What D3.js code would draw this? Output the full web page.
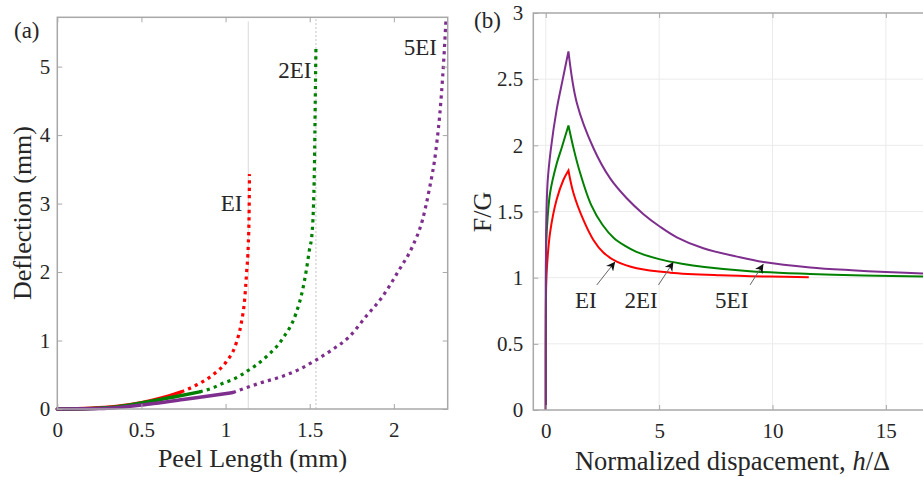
<!DOCTYPE html>
<html>
<head>
<meta charset="utf-8">
<script src="https://cdn.jsdelivr.net/npm/d3@7"></script>
<style>
  body { margin: 0; background: #fff; }
  svg text { font-family: "Liberation Serif", "Times New Roman", serif; fill: #262626; }
</style>
</head>
<body>
<svg id="fig" width="923" height="477"></svg>
<script>
// ---- panel (a) data: peel length (mm) vs deflection (mm)
const redSolid = [[0, 0], [0.2, 0.01], [0.35, 0.035], [0.5, 0.09], [0.62, 0.16], [0.737, 0.25]]
const redDotted = [[0.737, 0.25], [0.826, 0.35], [0.925, 0.5], [1.004, 0.69], [1.063, 0.96], [1.093, 1.25],
  [1.113, 1.59], [1.126, 2.03], [1.135, 2.4], [1.14, 2.9], [1.142, 3.43]]
const greenSolid = [[0, 0], [0.2, 0.008], [0.35, 0.03], [0.55, 0.11], [0.7, 0.18], [0.846, 0.25]]
const greenDotted = [[0.846, 0.25], [0.925, 0.31], [0.984, 0.375], [1.043, 0.43], [1.123, 0.545], [1.241, 0.76],
  [1.34, 1.03], [1.419, 1.4], [1.458, 1.74], [1.478, 2.0], [1.498, 2.32], [1.514, 2.57], [1.528, 3.54],
  [1.533, 4.51], [1.537, 5.28]]
const purpleSolid = [[0, 0], [0.25, 0.006], [0.55, 0.073], [0.747, 0.14], [0.9, 0.19], [1.043, 0.24]]
const purpleDotted = [[1.043, 0.24], [1.2, 0.375], [1.34, 0.48], [1.439, 0.58], [1.537, 0.715], [1.636, 0.87],
  [1.735, 1.055], [1.834, 1.35], [1.932, 1.64], [2.031, 2.03], [2.11, 2.37], [2.17, 2.76], [2.21, 3.2],
  [2.25, 3.78], [2.28, 4.51], [2.3, 5.24], [2.31, 5.7]]
const refLines = [1.135, 1.537]
const labelsA = [["EI", 1.10, 2.89], ["2EI", 1.51, 4.83], ["5EI", 2.256, 5.17]]
const xTicksA = [0, 0.5, 1, 1.5, 2]
const yTicksA = [0, 1, 2, 3, 4, 5]

// ---- panel (b) data: normalized displacement vs F/G
const redRise = [[0, 0], [0.003, 0.7], [0.02, 0.95], [0.06, 1.1], [0.19, 1.34], [0.48, 1.59], [0.78, 1.74], [1, 1.81]]
const redFall = [[1, 1.81], [1.22, 1.64], [1.66, 1.436], [2.1, 1.285], [2.54, 1.19], [3.13, 1.121], [4.01, 1.071],
  [5.48, 1.038], [7.69, 1.018], [9.89, 1.008], [11.6, 1.004]]
const greenRise = [[0, 0], [0.003, 0.8], [0.02, 1.25], [0.08, 1.45], [0.19, 1.64], [0.48, 1.86], [0.7, 1.98], [1, 2.15]]
const greenFall = [[1, 2.15], [1.25, 1.96], [1.5, 1.8], [2, 1.55], [2.5, 1.4], [3, 1.3], [3.5, 1.24], [4, 1.195],
  [5, 1.14], [6, 1.105], [7, 1.08], [9, 1.048], [11.66, 1.028], [14, 1.016], [17, 1.007]]
const purpleRise = [[0, 0], [0.003, 0.9], [0.02, 1.4], [0.08, 1.72], [0.22, 1.965], [0.48, 2.27], [0.75, 2.5], [1, 2.71]]
const purpleFall = [[1, 2.71], [1.37, 2.32], [2.1, 1.98], [2.84, 1.75], [3.57, 1.6], [4.31, 1.48], [5.04, 1.385],
  [5.78, 1.305], [6.95, 1.222], [8.43, 1.159], [9.6, 1.118], [11.66, 1.077], [13.5, 1.056], [15, 1.043], [17, 1.03]]
// [text, text x, text y, arrow tail x, tail y, head x, head y]
const labelsB = [["EI", 1.77, 0.77, 2.25, 0.945, 3.06, 1.121],
  ["2EI", 4.2, 0.77, 4.97, 0.945, 5.63, 1.118],
  ["5EI", 8.2, 0.77, 9.01, 0.945, 9.6, 1.104]]
const xTicksB = [0, 5, 10, 15]
const yTicksB = [0, 0.5, 1, 1.5, 2, 2.5, 3]

const RED = '#ff0000', GREEN = '#008000', PURPLE = '#7e2f8e'
const FRAME = '#a8a8a8'

const svg = d3.select('#fig')

function draw_frame(g, x, y, xTicks, yTicks, pad, fmt) {
  const [x0, x1] = x.range()
  const [y0, y1] = y.range()
  g.append('g').attr('transform', 'translate(0,' + y0 + ')')
    .call(d3.axisBottom(x).tickValues(xTicks).tickSizeInner(-5).tickSizeOuter(0).tickPadding(13).tickFormat(fmt))
  g.append('g').attr('transform', 'translate(0,' + y1 + ')')
    .call(d3.axisTop(x).tickValues(xTicks).tickSizeInner(-5).tickSizeOuter(0).tickFormat(''))
  g.append('g').attr('transform', 'translate(' + x0 + ',0)')
    .call(d3.axisLeft(y).tickValues(yTicks).tickSizeInner(-5).tickSizeOuter(0).tickPadding(pad).tickFormat(fmt))
  g.append('g').attr('transform', 'translate(' + x1 + ',0)')
    .call(d3.axisRight(y).tickValues(yTicks).tickSizeInner(-5).tickSizeOuter(0).tickFormat(''))
  g.selectAll('.domain').remove()
  g.selectAll('.tick line').attr('stroke', FRAME)
  g.selectAll('.tick text').attr('font-size', 21).attr('fill', '#262626')
    .style('font-family', '"Liberation Serif", serif')
  g.append('rect').attr('x', x0).attr('y', y1).attr('width', x1 - x0).attr('height', y0 - y1)
    .attr('fill', 'none').attr('stroke', FRAME).attr('stroke-width', 1.5)
}

const fmt = d => String(d)

// ===== panel (a)
const xA = d3.scaleLinear().domain([0, 2.32]).range([57.3, 447.7])
const yA = d3.scaleLinear().domain([0, 5.72]).range([409, 17.3])
const gA = svg.append('g')
const lineA = d3.line().x(d => xA(d[0])).y(d => yA(d[1])).curve(d3.curveMonotoneX)

gA.append('line').attr('x1', xA(refLines[0])).attr('x2', xA(refLines[0]))
  .attr('y1', yA(0)).attr('y2', yA(5.66)).attr('stroke', '#dadada').attr('stroke-width', 1)
gA.append('line').attr('x1', xA(refLines[1])).attr('x2', xA(refLines[1]))
  .attr('y1', yA(0)).attr('y2', yA(5.7)).attr('stroke', '#c4c4c4').attr('stroke-width', 1)
  .attr('stroke-dasharray', '2,2')

const seriesA = [[redSolid, redDotted, RED], [greenSolid, greenDotted, GREEN], [purpleSolid, purpleDotted, PURPLE]]
seriesA.forEach(function (s) {
  gA.append('path').attr('d', lineA(s[1])).attr('fill', 'none').attr('stroke', s[2])
    .attr('stroke-width', 3.2).attr('stroke-dasharray', '3.2,4.2')
})
seriesA.forEach(function (s) {
  gA.append('path').attr('d', lineA(s[0])).attr('fill', 'none').attr('stroke', s[2])
    .attr('stroke-width', 3.5).attr('stroke-linecap', 'round')
})

draw_frame(gA, xA, yA, xTicksA, yTicksA, 7, fmt)

labelsA.forEach(function (l) {
  gA.append('text').attr('x', xA(l[1])).attr('y', yA(l[2])).attr('text-anchor', 'end')
    .attr('font-size', 23).text(l[0])
})
gA.append('text').attr('x', 14).attr('y', 38).attr('font-size', 23).text('(a)')
gA.append('text').attr('x', 252.5).attr('y', 467).attr('text-anchor', 'middle')
  .attr('font-size', 26).text('Peel Length (mm)')
gA.append('text').attr('transform', 'translate(31,213) rotate(-90)').attr('text-anchor', 'middle')
  .attr('font-size', 26).text('Deflection (mm)')

// ===== panel (b)
const xB = d3.scaleLinear().domain([-0.55, 17.03]).range([533.3, 931.9])
const yB = d3.scaleLinear().domain([0, 3]).range([410, 13])
const gB = svg.append('g')
const lineB = d3.line().x(d => xB(d[0])).y(d => yB(d[1])).curve(d3.curveCatmullRom.alpha(0.5))

// grid
gB.selectAll('.gx').data(xTicksB).enter().append('line')
  .attr('x1', d => xB(d)).attr('x2', d => xB(d)).attr('y1', yB(0)).attr('y2', yB(3))
  .attr('stroke', '#ebebeb').attr('stroke-width', 1)
gB.selectAll('.gy').data(yTicksB.filter(d => d > 0 && d < 3)).enter().append('line')
  .attr('x1', xB.range()[0]).attr('x2', xB.range()[1]).attr('y1', d => yB(d)).attr('y2', d => yB(d))
  .attr('stroke', '#ebebeb').attr('stroke-width', 1)

const seriesB = [[redRise, redFall, RED], [greenRise, greenFall, GREEN], [purpleRise, purpleFall, PURPLE]]
seriesB.forEach(function (s) {
  gB.append('path').attr('d', lineB(s[0]) + lineB(s[1]).replace('M', 'L'))
    .attr('fill', 'none').attr('stroke', s[2]).attr('stroke-width', 2).attr('stroke-linejoin', 'miter')
})

draw_frame(gB, xB, yB, xTicksB, yTicksB, 10, fmt)

svg.append('defs').append('marker').attr('id', 'arr').attr('viewBox', '0 0 10 10')
  .attr('refX', 10).attr('refY', 5).attr('markerWidth', 10).attr('markerHeight', 9)
  .attr('markerUnits', 'userSpaceOnUse').attr('orient', 'auto')
  .append('path').attr('d', 'M0,0 L10,5 L0,10 L3,5 Z').attr('fill', '#111')

labelsB.forEach(function (l) {
  gB.append('line').attr('x1', xB(l[3])).attr('y1', yB(l[4])).attr('x2', xB(l[5])).attr('y2', yB(l[6]))
    .attr('stroke', '#666').attr('stroke-width', 1).attr('marker-end', 'url(#arr)')
  gB.append('text').attr('x', xB(l[1])).attr('y', yB(l[2])).attr('text-anchor', 'middle')
    .attr('font-size', 23).text(l[0])
})

gB.append('text').attr('x', 474).attr('y', 28).attr('font-size', 23).text('(b)')
gB.append('text').attr('transform', 'translate(491,212) rotate(-90)').attr('text-anchor', 'middle')
  .attr('font-size', 26).text('F/G')
const xt = gB.append('text').attr('x', 732.5).attr('y', 470).attr('text-anchor', 'middle').attr('font-size', 26.5)
xt.append('tspan').text('Normalized dispacement, ')
xt.append('tspan').attr('font-style', 'italic').text('h')
xt.append('tspan').text('/Δ')
</script>
</body>
</html>
